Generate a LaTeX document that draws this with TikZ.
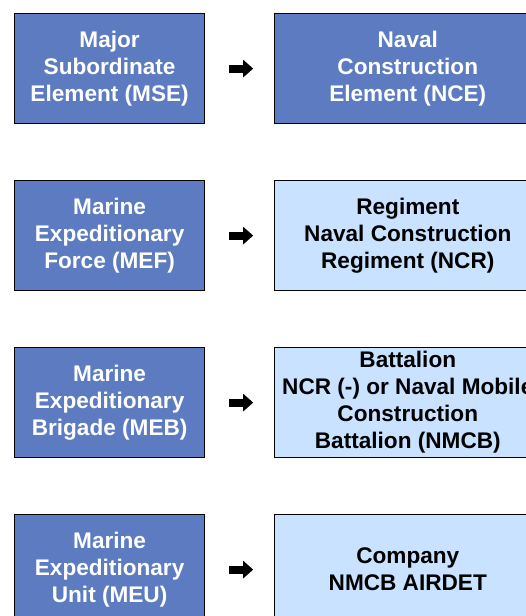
\documentclass[tikz,border=0pt]{standalone}
\usepackage{fontspec}
\setmainfont{Liberation Sans}
\usetikzlibrary{arrows.meta,positioning}

\definecolor{darkbox}{RGB}{92,123,192}
\definecolor{lightbox}{RGB}{200,226,255}

\tikzset{
	unit/.style={draw=black, line width=1.2pt, minimum width=190pt, minimum height=110pt,
		inner sep=0pt, align=center, font=\bfseries\fontsize{22.6}{27}\selectfont},
	marine/.style={unit, fill=darkbox, text=white},
	navy/.style={unit, fill=darkbox, text=white, minimum width=266pt},
	navylight/.style={unit, fill=lightbox, text=black, minimum width=266pt},
	maps/.style={line width=8pt, -{Triangle[length=10pt,width=17pt]}, shorten <=24pt, shorten >=21pt}
}

\begin{document}
\begin{tikzpicture}[x=1pt,y=1pt]
			\useasboundingbox (0,0) rectangle (526,-616);
			\clip (0,0) rectangle (526,-616);

			\node[marine, anchor=north west] (mse) at (14,-13) {Major\\Subordinate\\Element (MSE)};
			\node[marine] (mef) [below=55.8pt of mse] {Marine\\Expeditionary\\Force (MEF)};
			\node[marine] (meb) [below=55.8pt of mef] {Marine\\Expeditionary\\Brigade (MEB)};
			\node[marine] (meu) [below=55.8pt of meb] {Marine\\Expeditionary\\Unit (MEU)};

			\node[navy, anchor=west] (nce) at ([xshift=69pt]mse.east) {Naval\\Construction\\Element (NCE)};
			\node[navylight, anchor=west] (ncr) at ([xshift=69pt]mef.east) {Regiment\\Naval Construction\\Regiment (NCR)};
			\node[navylight, anchor=west] (nmcb) at ([xshift=69pt]meb.east) {Battalion\\NCR (-) or Naval Mobile\\Construction\\Battalion (NMCB)};
			\node[navylight, anchor=west] (airdet) at ([xshift=69pt]meu.east) {Company\\NMCB AIRDET};

			\draw[maps] (mse) -- (nce);
			\draw[maps] (mef) -- (ncr);
			\draw[maps] (meb) -- (nmcb);
			\draw[maps] (meu) -- (airdet);
		\end{tikzpicture}
\end{document}
